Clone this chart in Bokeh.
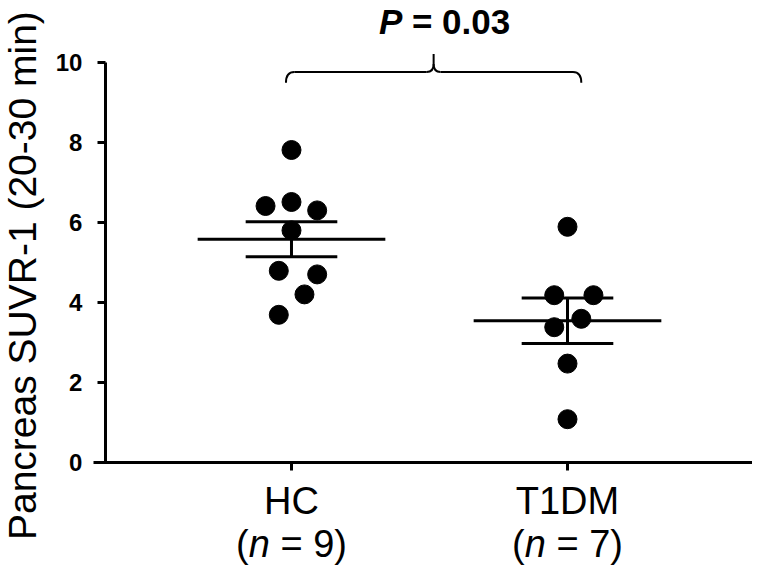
import numpy as np
from bokeh.plotting import figure
from bokeh.models import Label, FixedTicker, Range1d
from bokeh.embed import file_html
from bokeh.resources import INLINE

# ---- data ----
groups = ["HC", "T1DM"]
group_pos = [1, 2]
group_n = ["9", "7"]
hc_x = [1.0, 0.906, 1.0, 1.093, 1.0, 0.954, 1.093, 1.047, 0.954]
hc_y = [7.8, 6.4, 6.5, 6.29, 5.79, 4.78, 4.69, 4.19, 3.68]
t1dm_x = [2.0, 1.952, 2.094, 2.05, 1.952, 2.0, 2.0]
t1dm_y = [5.88, 4.17, 4.17, 3.58, 3.37, 2.46, 1.07]
y_ticks = [0, 2, 4, 6, 8, 10]
p_value = "0.03"
bracket_x = [0.98, 2.05]
bracket_y = 9.75

FONT = "Liberation Sans"

p = figure(frame_width=752, frame_height=570,
           x_range=Range1d(-0.0543, 2.6703), y_range=Range1d(-2.7125, 11.5375),
           output_backend="svg", toolbar_location=None,
           min_border_left=0, min_border_right=0, min_border_top=0,
           min_border_bottom=0)
p.outline_line_color = None
p.grid.visible = False
p.background_fill_color = "white"
p.border_fill_color = "white"

# y axis (drawn at a fixed x inside the frame)
ya = p.yaxis[0]
ya.fixed_location = 0.326
ya.ticker = FixedTicker(ticks=y_ticks)
ya.bounds = (0, 10)
ya.axis_line_width = 3
ya.major_tick_line_width = 3
ya.major_tick_out = 8
ya.major_tick_in = 0
ya.minor_tick_line_color = None
ya.major_label_text_font = FONT
ya.major_label_text_font_style = "bold"
ya.major_label_text_font_size = "24px"
ya.major_label_text_color = "black"
ya.major_label_standoff = 15

# x axis (drawn at y = 0)
xa = p.xaxis[0]
xa.fixed_location = 0
xa.bounds = (0.283, 2.6703)
xa.ticker = FixedTicker(ticks=group_pos)
xa.major_label_overrides = {pos: g for pos, g in zip(group_pos, groups)}
xa.axis_line_width = 3
xa.major_tick_line_width = 3
xa.major_tick_out = 8
xa.major_tick_in = 0
xa.minor_tick_line_color = None
xa.major_label_text_font = FONT
xa.major_label_text_font_size = "38px"
xa.major_label_text_color = "black"
xa.major_label_standoff = 10

# mean +/- SEM
for pos, ys in zip(group_pos, [hc_y, t1dm_y]):
    arr = np.array(ys)
    m = arr.mean()
    sem = arr.std(ddof=1) / np.sqrt(len(arr))
    p.segment(x0=[pos - 0.34], x1=[pos + 0.34], y0=[m], y1=[m], line_width=3, line_color="black")
    p.segment(x0=[pos - 0.166, pos - 0.166], x1=[pos + 0.166, pos + 0.166],
              y0=[m - sem, m + sem], y1=[m - sem, m + sem], line_width=3, line_color="black")
    p.segment(x0=[pos], x1=[pos], y0=[m - sem], y1=[m + sem], line_width=3, line_color="black")

# points
p.scatter(hc_x, hc_y, size=19, color="black")
p.scatter(t1dm_x, t1dm_y, size=19, color="black")

# bracket
xL, xR = bracket_x
xc = (xL + xR) / 2
yb = bracket_y
dx, dy = 0.03, 0.27
lw = 2
p.quadratic(x0=[xL, xR], y0=[yb - dy, yb - dy], x1=[xL + dx, xR - dx], y1=[yb, yb],
            cx=[xL, xR], cy=[yb, yb], line_width=lw, line_color="black")
p.segment(x0=[xL + dx, xc + 0.025], x1=[xc - 0.025, xR - dx], y0=[yb, yb], y1=[yb, yb],
          line_width=lw, line_color="black")
p.quadratic(x0=[xc - 0.025, xc + 0.025], y0=[yb, yb], x1=[xc, xc], y1=[yb + 0.2, yb + 0.2],
            cx=[xc, xc], cy=[yb, yb], line_width=lw, line_color="black")
p.segment(x0=[xc], x1=[xc], y0=[yb + 0.2], y1=[yb + 0.45], line_width=lw, line_color="black")

# P value text
p_y = 11.015
p.add_layout(Label(x=xc, y=p_y, x_offset=-54.7, text="P", text_font=FONT,
                   text_font_style="bold italic", text_font_size="35px",
                   text_align="left", text_baseline="middle", text_color="black"))
p.add_layout(Label(x=xc, y=p_y, x_offset=-21.7, text="= " + p_value, text_font=FONT,
                   text_font_style="bold", text_font_size="35px",
                   text_align="left", text_baseline="middle", text_color="black"))

# second line of x labels: (n = N)
for pos, n in zip(group_pos, group_n):
    for txt, off, style in [("(", -55.4, "normal"), ("n", -42.8, "italic"), ("= " + n + ")", -11.1, "normal")]:
        p.add_layout(Label(x=pos, y=-2.06, x_offset=off, text=txt, text_font=FONT,
                           text_font_style=style, text_font_size="38px",
                           text_align="left", text_baseline="middle", text_color="black"))

# y axis title
p.add_layout(Label(x=0.0272, y=4.66, text="Pancreas SUVR-1 (20-30 min)", angle=np.pi / 2,
                   text_font=FONT, text_font_size="39px", text_align="center",
                   text_baseline="middle", text_color="black"))

open("out.html", "w").write(file_html(p, INLINE))
